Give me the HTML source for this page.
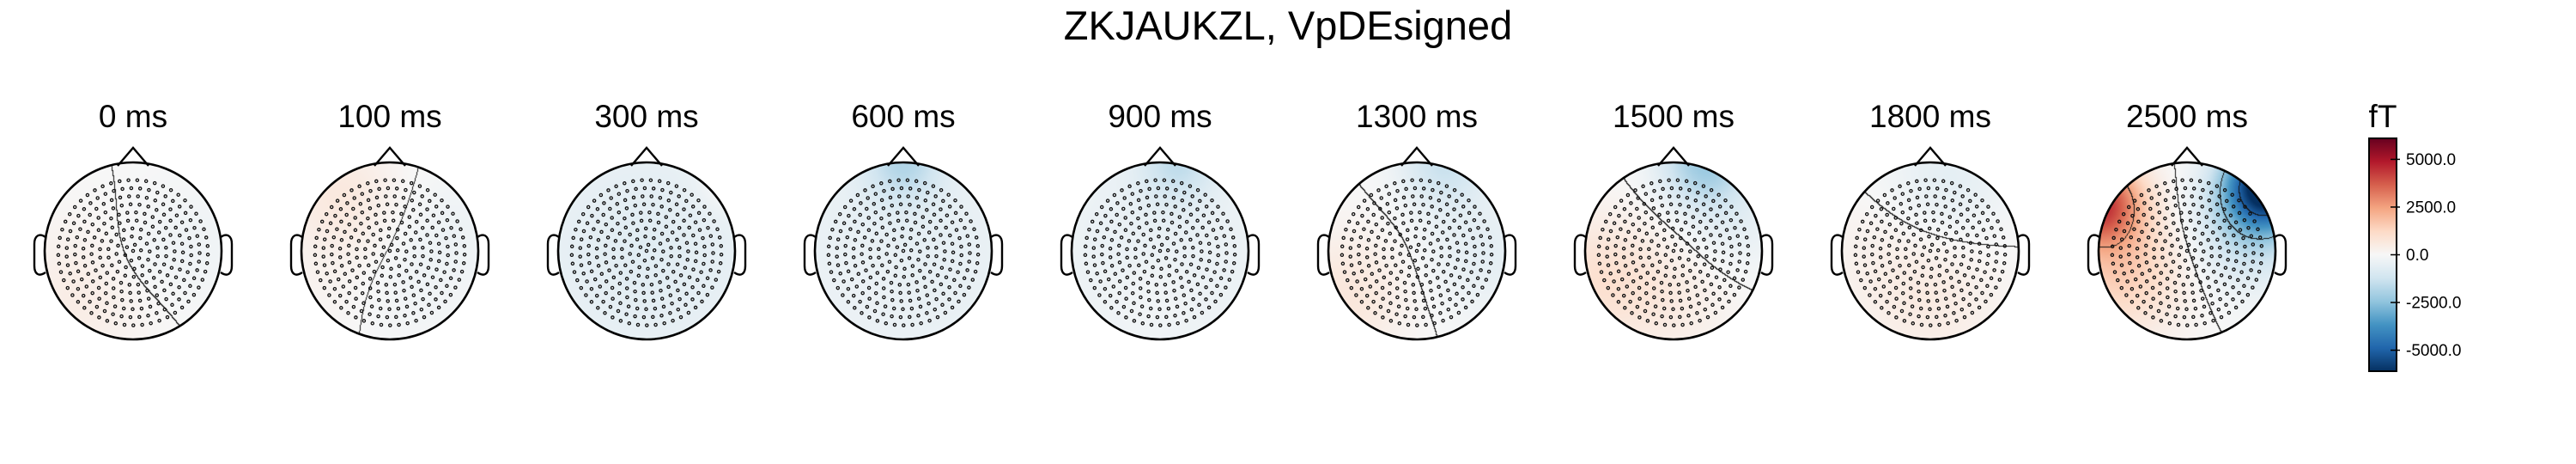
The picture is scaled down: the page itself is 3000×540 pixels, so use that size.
<!DOCTYPE html>
<html><head><meta charset="utf-8">
<style>
html,body{margin:0;padding:0;background:#fff;}
#wrap{position:relative;width:3000px;height:540px;overflow:hidden;}
canvas,svg{position:absolute;left:0;top:0;}
text{font-family:"Liberation Sans",Arial,sans-serif;fill:#000;}
</style></head>
<body>
<div id="wrap">
<canvas id="cv" width="3000" height="540"></canvas>
<svg id="sv" width="3000" height="540" xmlns="http://www.w3.org/2000/svg">
<text x="1500" y="46" font-size="47" text-anchor="middle">ZKJAUKZL, VpDEsigned</text>
</svg>
</div>
<script>
// ---- data ----
const timeLabels = ["0 ms","100 ms","300 ms","600 ms","900 ms","1300 ms","1500 ms","1800 ms","2500 ms"];
// blobs per head: [x, y, value(fT), sigma] in normalized head coords (y up = front)
const blobs0 = [[-0.6,-0.5,450,0.55],[0.7,0.1,-250,0.5],[0.05,-0.1,-150,0.35]];
const blobs1 = [[-0.55,0.65,600,0.45],[0.7,0.2,-300,0.5],[0.1,-0.5,-200,0.45],[-0.6,-0.3,200,0.5]];
const blobs2 = [[0,0,-700,1.2],[0.9,0.75,500,0.22]];
const blobs3 = [[0,1.0,-1400,0.3],[0,0,-600,1.2],[-0.3,-0.3,150,0.4]];
const blobs4 = [[0.2,1.0,-1200,0.3],[0,0,-500,1.2],[-0.1,-0.5,250,0.4]];
const blobs5 = [[0.3,1.0,-1300,0.35],[-0.8,-0.5,700,0.5],[0.75,0,-600,0.5]];
const blobs6 = [[0.35,1.0,-2200,0.35],[-0.85,-0.3,900,0.5],[0,-0.6,400,0.5],[0.7,0.3,-500,0.4]];
const blobs7 = [[0.2,0.8,-600,0.5],[0,-0.55,500,0.55],[-0.7,0,200,0.5]];
const blobs8 = [[-1.0,0.55,4200,0.33],[-0.75,-0.2,1500,0.5],[0.9,0.75,-6500,0.33],[0.7,0.25,-1500,0.45]];
const headBlobs = [blobs0,blobs1,blobs2,blobs3,blobs4,blobs5,blobs6,blobs7,blobs8];
const cbarTicks = [5000,2500,0,-2500,-5000];
const cbarTickLabels = ["5000.0","2500.0","0.0","-2500.0","-5000.0"];
const vmax = 6100, vmin = -6100;
const contourStep = 2500;

// ---- layout ----
const X0 = 155, DX = 299, CY = 292, R = 103;
const cmap = ["#053061","#2166ac","#4393c3","#92c5de","#d1e5f0","#f7f7f7","#fddbc7","#f4a582","#d6604d","#b2182b","#67001f"];
function hex(c){return [parseInt(c.slice(1,3),16),parseInt(c.slice(3,5),16),parseInt(c.slice(5,7),16)];}
const cm = cmap.map(hex);
function color(v){
  let t=(v-vmin)/(vmax-vmin); t=Math.max(0,Math.min(1,t));
  const p=t*(cm.length-1), i=Math.min(cm.length-2,Math.floor(p)), f=p-i;
  return [0,1,2].map(k=>Math.round(cm[i][k]+(cm[i+1][k]-cm[i][k])*f));
}
function field(bl,x,y){let s=0;for(const b of bl){const dx=x-b[0],dy=y-b[1];s+=b[2]*Math.exp(-(dx*dx+dy*dy)/(2*b[3]*b[3]));}return s;}

const cv=document.getElementById('cv'), ctx=cv.getContext('2d');
const img=ctx.createImageData(3000,540), d=img.data;
for(let i=0;i<3000*540;i++){d[i*4]=255;d[i*4+1]=255;d[i*4+2]=255;d[i*4+3]=255;}
headBlobs.forEach((bl,h)=>{
  const cx=X0+h*DX;
  const S=2*R+2, bins=new Int16Array(S*S), inside=new Uint8Array(S*S);
  for(let j=0;j<S;j++)for(let i=0;i<S;i++){
    const px=cx-R-1+i, py=CY-R-1+j;
    const nx=(px-cx)/R, ny=-(py-CY)/R;
    if(nx*nx+ny*ny>1)continue;
    inside[j*S+i]=1;
    const v=field(bl,nx,ny);
    bins[j*S+i]=Math.floor(v/contourStep);
    const c=color(v), o=(py*3000+px)*4;
    d[o]=c[0];d[o+1]=c[1];d[o+2]=c[2];
  }
  for(let j=0;j<S-1;j++)for(let i=0;i<S-1;i++){
    const k=j*S+i; if(!inside[k]||!inside[k+1]||!inside[k+S])continue;
    if(bins[k]!==bins[k+1]||bins[k]!==bins[k+S]){
      const o=((CY-R-1+j)*3000+(cx-R-1+i))*4; d[o]=20;d[o+1]=20;d[o+2]=20;
    }
  }
});
ctx.putImageData(img,0,0);

// ---- overlay ----
const NS="http://www.w3.org/2000/svg", sv=document.getElementById('sv');
function el(t,a,p){const e=document.createElementNS(NS,t);for(const k in a)e.setAttribute(k,a[k]);(p||sv).appendChild(e);return e;}
// sensor layout (geometry)
const sensors=[[0,0]];
for(let k=1;k<=9;k++){const n=Math.round(5.9*k);for(let m=0;m<n;m++){const a=2*Math.PI*m/n+k*0.3;sensors.push([0.094*k*Math.cos(a),0.094*k*Math.sin(a)*0.97-0.02]);}}
timeLabels.forEach((lab,h)=>{
  const cx=X0+h*DX;
  const g=el('g',{});
  
  
  const t=el('text',{x:cx,y:148,'font-size':37,'text-anchor':'middle'},g); t.textContent=lab;
  
  
  const dots=el('g',{fill:'none',stroke:'#111','stroke-width':1.3},g);
  
  
  sensors.forEach(s=>{el('circle',{cx:(cx+s[0]*R).toFixed(1),cy:(CY-s[1]*R).toFixed(1),r:1.6},dots);});
  const hd=el('circle',{cx:cx,cy:CY,r:R,fill:'none',stroke:'#000','stroke-width':2.6},g);
  
  
  const ns=el('path',{d:`M${cx-18},${CY-R+4} L${cx},172 L${cx+18},${CY-R+4}`,fill:'none',stroke:'#000','stroke-width':2.4},g);
  
  
  const L=cx-R, Rr=cx+R;
  const e1=el('path',{d:`M${L+1},276 C${L-6},271 ${L-12},274 ${L-12},284 L${L-12},309 C${L-12},320 ${L-6},322 ${L+1},317`,fill:'none',stroke:'#000','stroke-width':2.4},g);
  
  
  const e2=el('path',{d:`M${Rr-1},276 C${Rr+6},271 ${Rr+12},274 ${Rr+12},284 L${Rr+12},309 C${Rr+12},320 ${Rr+6},322 ${Rr-1},317`,fill:'none',stroke:'#000','stroke-width':2.4},g);
  
  
});
// colorbar
const CB={x:2759,y:161,w:32,h:271};
function cy(v){return CB.y+CB.h*(vmax-v)/(vmax-vmin);}
const defs=el('defs',{});
const lg=el('linearGradient',{id:'cbg',x1:0,y1:0,x2:0,y2:1},defs);
cmap.slice().reverse().forEach((c,i)=>el('stop',{offset:(i/(cmap.length-1)),'stop-color':c},lg));
const cb=el('g',{});


const ft=el('text',{x:2775,y:148,'font-size':37,'text-anchor':'middle'},cb); ft.textContent='fT';


el('rect',{x:CB.x,y:CB.y,width:CB.w,height:CB.h,fill:'url(#cbg)',stroke:'#000','stroke-width':2},cb);
cbarTicks.forEach((v,i)=>{
  const y=cy(v);
  const tk=el('line',{x1:CB.x+CB.w-7,x2:CB.x+CB.w+4,y1:y,y2:y,stroke:'#000','stroke-width':1.5},cb);
  
  
  const tl=el('text',{x:2802,y:y+6.5,'font-size':19},cb); tl.textContent=cbarTickLabels[i];
  
  
});
</script>
</body></html>
